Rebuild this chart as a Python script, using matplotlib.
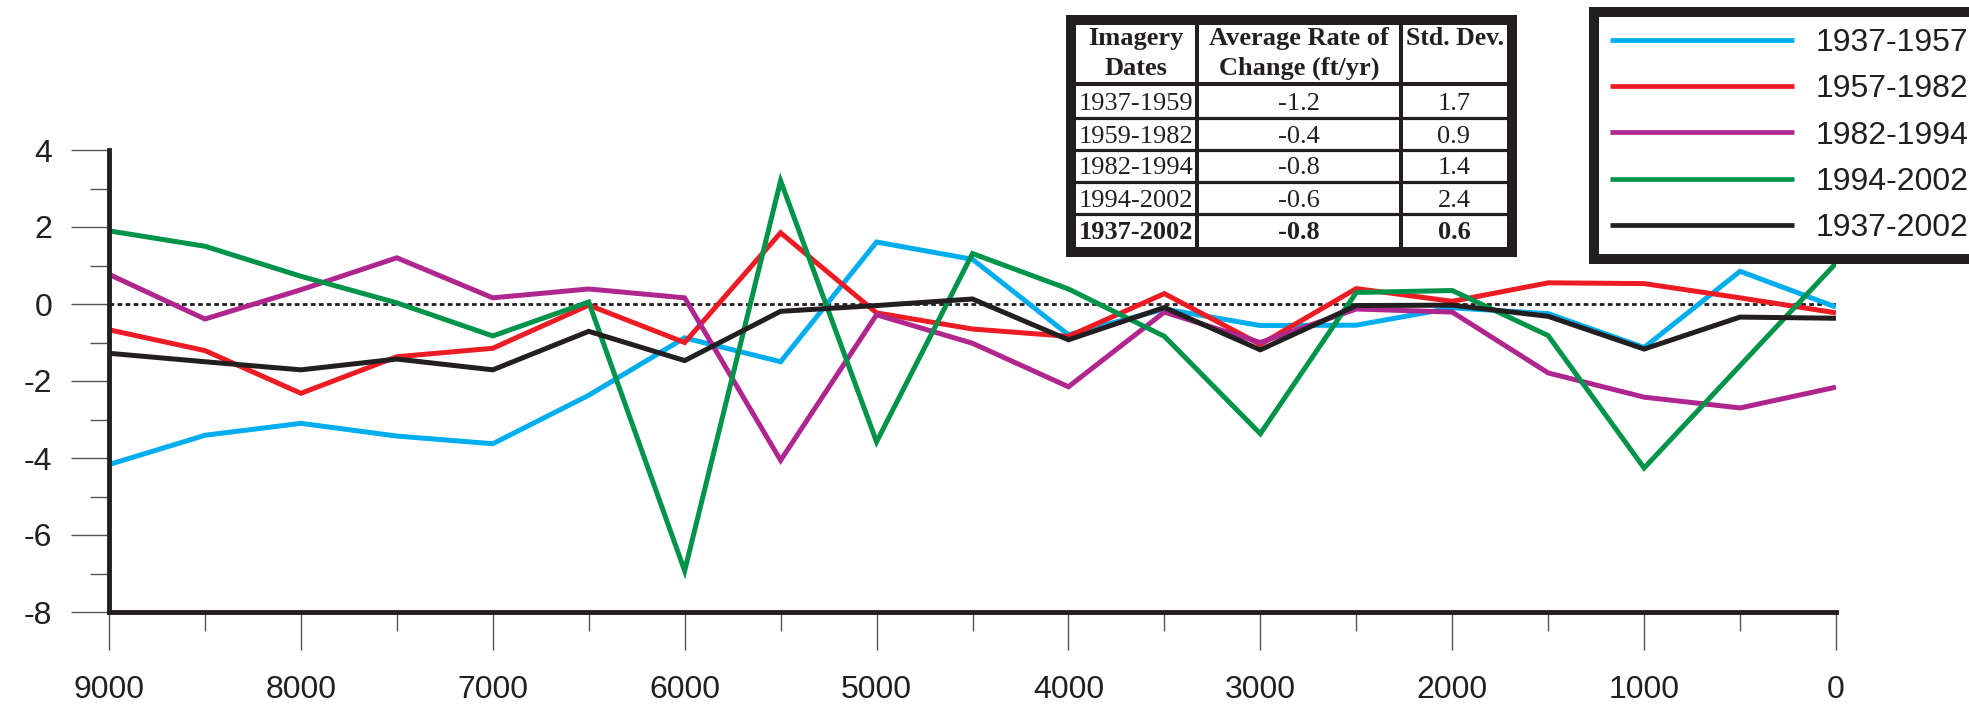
import matplotlib
matplotlib.use('Agg')
import matplotlib.pyplot as plt
from matplotlib.patches import Rectangle
from matplotlib.ticker import MultipleLocator

plt.rcParams['axes.unicode_minus'] = False
plt.rcParams['font.family'] = ['Liberation Sans', 'DejaVu Sans']

# ---------------- data ----------------
distance = [9000, 8500, 8000, 7500, 7000, 6500, 6000, 5500, 5000, 4500,
            4000, 3500, 3000, 2500, 2000, 1500, 1000, 500, 0]

rate_1937_1957 = [-4.17, -3.41, -3.10, -3.43, -3.63, -2.37, -0.88, -1.50, 1.61, 1.16,
                  -0.80, -0.13, -0.56, -0.55, -0.10, -0.25, -1.13, 0.85, -0.08]
rate_1957_1982 = [-0.67, -1.21, -2.32, -1.37, -1.15, -0.03, -1.00, 1.85, -0.23, -0.65,
                  -0.84, 0.27, -1.05, 0.40, 0.07, 0.55, 0.53, 0.16, -0.23]
rate_1982_1994 = [0.77, -0.39, 0.37, 1.20, 0.16, 0.39, 0.16, -4.06, -0.28, -1.02,
                  -2.15, -0.21, -1.00, -0.13, -0.21, -1.79, -2.42, -2.70, -2.16]
rate_1994_2002 = [1.90, 1.50, 0.72, 0.03, -0.83, 0.05, -6.93, 3.20, -3.58, 1.31,
                  0.39, -0.84, -3.37, 0.30, 0.35, -0.82, -4.26, -1.60, 1.06]
rate_1937_2002 = [-1.28, -1.50, -1.71, -1.43, -1.71, -0.71, -1.47, -0.19, -0.04, 0.13,
                  -0.93, -0.09, -1.19, -0.04, -0.03, -0.32, -1.17, -0.34, -0.37]

series_values = [rate_1937_1957, rate_1957_1982, rate_1982_1994, rate_1994_2002, rate_1937_2002]
series_labels = ["1937-1957", "1957-1982", "1982-1994", "1994-2002", "1937-2002"]
series_colors = ["#00AEEF", "#ED1C24", "#B0268F", "#00934A", "#231F20"]

x_ticks = [9000, 8000, 7000, 6000, 5000, 4000, 3000, 2000, 1000, 0]
y_ticks = [-8, -6, -4, -2, 0, 2, 4]

table_header_col1 = ["Imagery", "Dates"]
table_header_col2 = ["Average Rate of", "Change (ft/yr)"]
table_header_col3 = ["Std. Dev."]
table_dates = ["1937-1959", "1959-1982", "1982-1994", "1994-2002", "1937-2002"]
table_rates = ["-1.2", "-0.4", "-0.8", "-0.6", "-0.8"]
table_std = ["1.7", "0.9", "1.4", "2.4", "0.6"]

# ---------------- figure ----------------
W, H = 1969, 704
DARK = "#231F20"
fig = plt.figure(figsize=(W / 100, H / 100), dpi=100)
fig.patch.set_facecolor("white")

ax = fig.add_axes([109 / W, 1 - 612 / H, (1836 - 109) / W, (612 - 150) / H])
ax.set_xlim(9000, 0)
ax.set_ylim(-8, 4)

handles = []
for vals, lab, col in zip(series_values, series_labels, series_colors):
    ln, = ax.plot(distance, vals, color=col, lw=3.6, label=lab,
                  solid_joinstyle='miter', solid_capstyle='butt', zorder=3)
    handles.append(ln)

ax.axhline(0, color=DARK, lw=2.0, ls=(0, (1.7, 1.2)), zorder=2)

for s in ["top", "right"]:
    ax.spines[s].set_visible(False)
for s in ["left", "bottom"]:
    ax.spines[s].set_linewidth(3.5)
    ax.spines[s].set_color(DARK)
    ax.spines[s].set_zorder(4)

ax.set_xticks(x_ticks)
ax.set_xticklabels([str(v) for v in x_ticks])
ax.xaxis.set_minor_locator(MultipleLocator(500))
ax.set_yticks(y_ticks)
ax.set_yticklabels([str(v) for v in y_ticks])
ax.yaxis.set_minor_locator(MultipleLocator(1))

ax.tick_params(axis='both', which='major', direction='out', length=27.5, width=1.0,
               color='#555555', labelsize=23, labelcolor=DARK)
ax.tick_params(axis='both', which='minor', direction='out', length=14, width=1.0,
               color='#555555')
ax.tick_params(axis='x', which='major', pad=18)
ax.tick_params(axis='y', which='major', pad=13.5)

# ---------------- legend ----------------
leg = fig.legend(handles=handles, labels=series_labels, loc='upper left',
                 bbox_to_anchor=(1594 / W, 1 - 12 / H), bbox_transform=fig.transFigure,
                 frameon=True, fancybox=False, framealpha=1, edgecolor=DARK,
                 fontsize=23, handlelength=5.75, handletextpad=0.68,
                 labelspacing=0.51, borderpad=0.5, borderaxespad=0)
leg.get_frame().set_linewidth(7.2)
leg.get_frame().set_joinstyle('miter')
for t in leg.get_texts():
    t.set_color(DARK)
for l in leg.get_lines():
    l.set_linewidth(3.4)
leg.set_zorder(10)

# ---------------- table ----------------
tax = fig.add_axes([0, 0, 1, 1], zorder=5)
tax.set_xlim(0, W)
tax.set_ylim(H, 0)
tax.axis('off')

tx0, tx1, ty0, ty1 = 1071, 1511.5, 20, 251.5
tax.add_patch(Rectangle((tx0, ty0), tx1 - tx0, ty1 - ty0, facecolor='white',
                        edgecolor=DARK, lw=7.2, joinstyle='miter', zorder=1))
col_sep = [1197, 1401]
row_sep = [84, 118, 149.5, 181.5, 214]
for xs in col_sep:
    tax.plot([xs, xs], [ty0, ty1], color=DARK, lw=2.9, solid_capstyle='butt', zorder=2)
for i, ys in enumerate(row_sep):
    tax.plot([tx0, tx1], [ys, ys], color=DARK, lw=2.9 if i == 0 else 2.3,
             solid_capstyle='butt', zorder=2)

col_centers = [1136, 1299, 1454]
serif = ['Liberation Serif', 'DejaVu Serif']
header_baselines = [45, 75]
for k, txt in enumerate(table_header_col1):
    tax.text(col_centers[0], header_baselines[k], txt, ha='center', va='baseline',
             fontsize=19, fontweight='bold', family=serif, color=DARK, zorder=3)
for k, txt in enumerate(table_header_col2):
    tax.text(col_centers[1], header_baselines[k], txt, ha='center', va='baseline',
             fontsize=19, fontweight='bold', family=serif, color=DARK, zorder=3)
for k, txt in enumerate(table_header_col3):
    tax.text(col_centers[2] + 1, header_baselines[k], txt, ha='center', va='baseline',
             fontsize=18.5, fontweight='bold', family=serif, color=DARK, zorder=3)

row_tops = [86, 119.5, 151, 183, 215.5]
row_bots = [117, 148.5, 180.5, 213, 246]
for r in range(len(table_dates)):
    yc = (row_tops[r] + row_bots[r]) / 2 + 8.7
    wt = 'bold' if r == len(table_dates) - 1 else 'normal'
    for c, txt in enumerate([table_dates[r], table_rates[r], table_std[r]]):
        tax.text(col_centers[c], yc, txt, ha='center', va='baseline', fontsize=19,
                 fontweight=wt, family=serif, color=DARK, zorder=3)

fig.savefig("out.png", dpi=100)
